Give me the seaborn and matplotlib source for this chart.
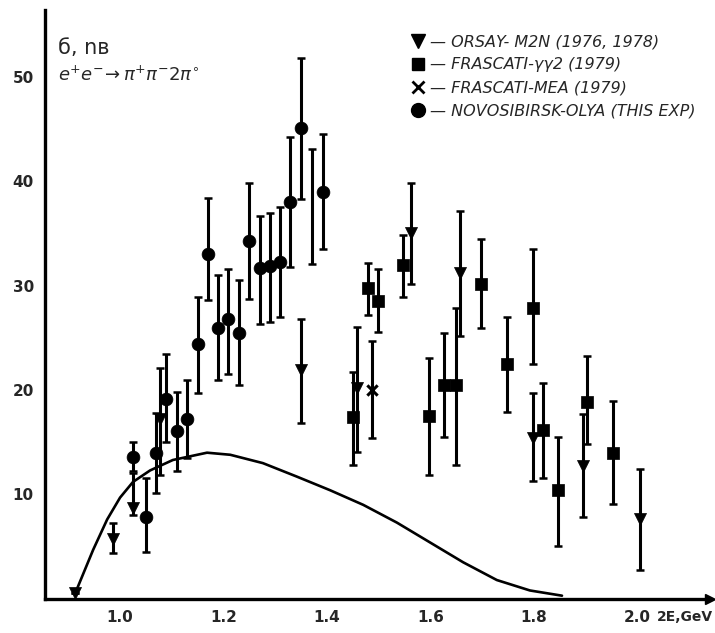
import numpy as np
import pandas as pd
import matplotlib
matplotlib.use("Agg")
import matplotlib.pyplot as plt
from matplotlib.lines import Line2D
import seaborn as sns

# --- data ---
# Novosibirsk-OLYA (circles)
nsk_x = [1.025, 1.051, 1.069, 1.089, 1.110, 1.130, 1.151, 1.170, 1.190, 1.209,
         1.230, 1.250, 1.270, 1.290, 1.309, 1.329, 1.350, 1.392]
nsk_y = [13.6, 7.8, 14.0, 19.1, 16.1, 17.2, 24.4, 33.0, 25.9, 26.8,
         25.5, 34.3, 31.7, 31.9, 32.3, 38.0, 45.1, 39.0]
nsk_lo = [12.2, 4.5, 10.1, 15.0, 12.2, 13.5, 19.7, 28.6, 21.0, 21.5,
          20.5, 28.7, 26.3, 26.5, 27.0, 31.8, 38.3, 33.5]
nsk_hi = [15.0, 11.6, 17.8, 23.5, 19.8, 21.0, 28.9, 38.4, 31.0, 31.6,
          30.5, 39.8, 36.7, 37.0, 37.5, 44.2, 51.8, 44.5]

# bare error bar without a visible marker
bare_x = [1.371]
bare_lo = [32.1]
bare_hi = [43.1]

# Orsay-M2N (down triangles)
orsay_x = [0.913, 0.986, 1.025, 1.077, 1.350, 1.458, 1.562, 1.657, 1.797, 1.895, 2.005]
orsay_y = [0.6, 5.7, 8.7, 17.2, 21.9, 20.2, 35.0, 31.2, 15.4, 12.7, 7.6]
orsay_lo = [0.6, 4.4, 8.0, 11.9, 16.8, 14.1, 30.2, 25.2, 11.3, 7.8, 2.8]
orsay_hi = [0.6, 7.3, 12.1, 22.1, 26.8, 26.0, 39.8, 37.2, 19.7, 17.7, 12.4]

# Frascati-gamma gamma 2 (squares)
fgg_x = [1.450, 1.479, 1.499, 1.547, 1.597, 1.626, 1.649, 1.698, 1.748, 1.798,
         1.817, 1.847, 1.902, 1.953]
fgg_y = [17.4, 29.8, 28.5, 32.0, 17.5, 20.5, 20.5, 30.2, 22.5, 27.9,
         16.2, 10.4, 18.9, 14.0]
fgg_lo = [12.8, 27.2, 25.6, 28.9, 11.9, 15.5, 12.8, 25.9, 17.9, 22.5,
          11.6, 5.1, 14.8, 9.1]
fgg_hi = [21.7, 32.2, 31.6, 34.9, 23.1, 25.5, 27.9, 34.5, 27.0, 33.5,
          20.7, 15.5, 23.3, 19.0]

# Frascati-MEA (crosses)
mea_x = [1.487]
mea_y = [20.0]
mea_lo = [15.4]
mea_hi = [24.7]

# theory curve
curve_x = [0.913, 0.948, 0.975, 1.0, 1.025, 1.058, 1.102, 1.168, 1.213, 1.276,
           1.342, 1.406, 1.47, 1.535, 1.599, 1.663, 1.728, 1.792, 1.854]
curve_y = [0.5, 4.7, 7.6, 9.7, 11.2, 12.3, 13.3, 14.0, 13.8, 13.0,
           11.7, 10.4, 9.0, 7.3, 5.4, 3.5, 1.8, 0.8, 0.3]

x_ticks = [1.0, 1.2, 1.4, 1.6, 1.8, 2.0]
y_ticks = [10, 20, 30, 40, 50]

sns.set_style("white")
plt.rcParams['font.family'] = ['DejaVu Sans']

fig = plt.figure(figsize=(7.15, 6.33), dpi=100)
ax = fig.add_axes([0.063, 0.054, 0.93, 0.93])

sets = [
    ("orsay", orsay_x, orsay_y, orsay_lo, orsay_hi),
    ("fgg", fgg_x, fgg_y, fgg_lo, fgg_hi),
    ("mea", mea_x, mea_y, mea_lo, mea_hi),
    ("nsk", nsk_x, nsk_y, nsk_lo, nsk_hi),
]
frames = []
for name, xs, ys, lo, hi in sets:
    frames.append(pd.DataFrame({"x": xs, "y": ys, "lo": lo, "hi": hi, "exp": name}))
df = pd.concat(frames, ignore_index=True)

# error bars
yerr = np.vstack([df["y"] - df["lo"], df["hi"] - df["y"]])
ax.errorbar(df["x"], df["y"], yerr=yerr, fmt="none", ecolor="black",
            elinewidth=2.2, capsize=3.2, capthick=1.8)
bare_mid = [(a + b) / 2 for a, b in zip(bare_lo, bare_hi)]
ax.errorbar(bare_x, bare_mid,
            yerr=[[m - l for m, l in zip(bare_mid, bare_lo)],
                  [h - m for h, m in zip(bare_hi, bare_mid)]],
            fmt="none", ecolor="black", elinewidth=2.2, capsize=3.2, capthick=1.8)

# curve
sns.lineplot(x=curve_x, y=curve_y, color="black", linewidth=1.9, ax=ax)

# markers
markers = {"orsay": "v", "fgg": "s", "mea": "x", "nsk": "o"}
sizes = {"orsay": 75, "fgg": 70, "mea": 55, "nsk": 85}
for name, grp in df.groupby("exp"):
    sns.scatterplot(data=grp, x="x", y="y", marker=markers[name], s=sizes[name],
                    color="black", edgecolor="black",
                    linewidth=2.2 if name == "mea" else 0.5, ax=ax,
                    zorder=5, legend=False)

ax.set_xlim(0.855, 2.14)
ax.set_ylim(0, 56.4)
ax.set_xticks(x_ticks)
ax.set_xticklabels([f"{v:.1f}" for v in x_ticks], fontsize=11, fontweight="bold")
ax.set_yticks(y_ticks)
ax.set_yticklabels([str(v) for v in y_ticks], fontsize=11, fontweight="bold")
ax.tick_params(direction="out", length=5, width=2, pad=3)
ax.set_xlabel("")
ax.set_ylabel("")

for s in ["top", "right"]:
    ax.spines[s].set_visible(False)
for s in ["left", "bottom"]:
    ax.spines[s].set_linewidth(2.4)
    ax.spines[s].set_color("black")

# axis arrows
ax.plot(1, 0, ">k", markersize=7, transform=ax.get_yaxis_transform(), clip_on=False)
ax.plot(0, 1, "^k", markersize=7, transform=ax.get_xaxis_transform(), clip_on=False)

fig.text(0.997, 0.037, "2E,GeV", fontsize=10, fontweight="bold",
         va="top", ha="right")
ax.text(0.02, 0.935, "б, nв", transform=ax.transAxes, fontsize=15, va="center")
ax.text(0.02, 0.89, r"$e^{+}e^{-}\!\rightarrow\pi^{+}\pi^{-}2\pi^{\circ}$",
        transform=ax.transAxes, fontsize=13, va="center")

handles = [Line2D([], [], ls="none", marker="v", color="black", markersize=10),
           Line2D([], [], ls="none", marker="s", color="black", markersize=9),
           Line2D([], [], ls="none", marker="x", color="black", markersize=9, mew=2),
           Line2D([], [], ls="none", marker="o", color="black", markersize=10)]
labels = ["— ORSAY- M2N (1976, 1978)",
          "— FRASCATI-γγ2 (1979)",
          "— FRASCATI-MEA (1979)",
          "— NOVOSIBIRSK-OLYA (THIS EXP)"]
ax.legend(handles, labels, loc="upper left", bbox_to_anchor=(0.54, 0.97),
          frameon=False, handlelength=1.0, handletextpad=0.2, labelspacing=0.5,
          borderaxespad=0, prop={"style": "italic", "size": 11.5})

fig.savefig("out.png", dpi=100)
